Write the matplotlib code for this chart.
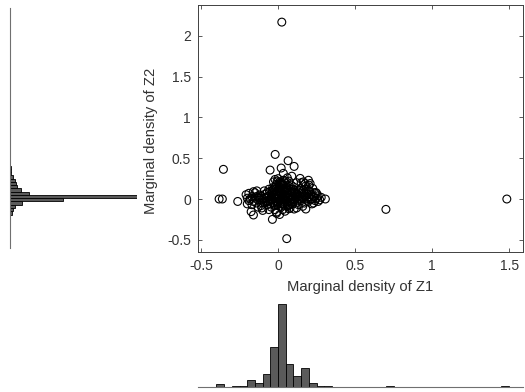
import numpy as np
import matplotlib.pyplot as plt

plt.rcParams['font.family'] = ['Liberation Sans', 'DejaVu Sans']

# scattered / outlying observations
z1_out = [0.024, -0.355, -0.383, -0.362, -0.262, 0.70, 1.485, 0.056, -0.019, 0.065,
          0.104, 0.02, -0.052, 0.307, 0.26, 0.104, 0.18, -0.037, -0.16, -0.175,
          -0.208, -0.138, 0.143, 0.197, 0.236, -0.01, 0.034, 0.089, 0.164, 0.208,
          -0.15, -0.17, -0.106, 0.078, 0.23, 0.25]
z2_out = [2.17, 0.364, 0.0, 0.0, -0.03, -0.127, 0.0, -0.486, 0.547, 0.47,
          0.40, 0.38, 0.355, 0.0, -0.03, -0.123, -0.123, -0.25, -0.196, -0.155,
          0.053, 0.10, 0.253, 0.23, 0.078, -0.175, 0.315, 0.28, 0.21, 0.19,
          0.077, -0.07, -0.11, -0.11, -0.05, 0.07]

# dense core around the origin
z1_core = [-0.20, -0.19, -0.18, -0.17, -0.16, -0.15, -0.14, -0.13, -0.12, -0.11,
           -0.10, -0.09, -0.085, -0.08, -0.07, -0.065, -0.06, -0.055, -0.05, -0.045,
           -0.04, -0.035, -0.03, -0.03, -0.025, -0.02, -0.02, -0.015, -0.01, -0.01,
           -0.005, 0.00, 0.00, 0.005, 0.01, 0.01, 0.015, 0.02, 0.02, 0.025,
           0.03, 0.03, 0.035, 0.04, 0.04, 0.045, 0.05, 0.05, 0.055, 0.06,
           0.06, 0.065, 0.07, 0.07, 0.075, 0.08, 0.08, 0.085, 0.09, 0.09,
           0.095, 0.10, 0.10, 0.105, 0.11, 0.115, 0.12, 0.12, 0.125, 0.13,
           0.135, 0.14, 0.145, 0.15, 0.155, 0.16, 0.165, 0.17, 0.175, 0.18,
           0.185, 0.19, 0.195, 0.20, 0.205, 0.21, 0.215, 0.22, 0.225, 0.23,
           0.24, 0.245, 0.25, 0.26, 0.27, 0.28,
           -0.045, -0.04, -0.035, -0.03, -0.025, -0.02, -0.015, -0.01, -0.005, 0.00,
           0.005, 0.01, 0.015, 0.02, 0.025, 0.03, 0.035, 0.04, 0.045, 0.05,
           0.055, -0.06, -0.05, -0.07, -0.08, -0.09, -0.11, -0.12, 0.01, -0.02,
           0.03, 0.06, -0.01, 0.03, 0.07, 0.01, -0.06, 0.12, 0.15, 0.16,
           0.20, 0.22, -0.13, -0.10, -0.20, -0.19, -0.16,
           -0.042, -0.028, -0.012, 0.004, 0.018, 0.032, 0.048, 0.062, 0.078, 0.092,
           -0.038, -0.022, -0.008, 0.008, 0.022, 0.038, 0.052, 0.068, 0.082, 0.098,
           0.112, 0.128, 0.142, 0.158, 0.172, 0.188, 0.202, 0.218, 0.232, 0.108,
           0.122, 0.138, 0.152, 0.168, 0.182, 0.198, 0.212, -0.048, -0.032, -0.018,
           -0.002, 0.012, 0.028, 0.042, 0.058, 0.072, 0.088, -0.068, -0.088, -0.102,
           -0.118, -0.142, 0.014, -0.006, 0.026, 0.044, 0.064, 0.084, 0.132, 0.176]
z2_core = [0.01, -0.02, 0.00, 0.03, -0.03, 0.01, -0.05, 0.02, -0.01, 0.04,
           0.00, -0.04, 0.06, 0.01, -0.07, 0.03, -0.02, 0.09, 0.00, -0.10,
           0.05, 0.14, -0.04, 0.21, 0.02, 0.11, -0.13, 0.07, 0.00, 0.18,
           -0.07, 0.04, 0.25, 0.13, -0.02, 0.09, 0.20, 0.01, -0.10, 0.16,
           0.05, -0.05, 0.23, 0.00, 0.11, -0.15, 0.03, 0.19, -0.03, 0.08,
           0.14, -0.08, 0.01, 0.22, 0.05, -0.02, 0.12, 0.17, 0.00, 0.07,
           -0.06, 0.03, 0.15, 0.10, -0.01, 0.06, 0.02, 0.20, -0.04, 0.09,
           0.00, 0.04, 0.13, -0.02, 0.07, 0.01, 0.11, -0.05, 0.03, 0.16,
           0.00, 0.06, -0.03, 0.02, 0.10, -0.01, 0.05, 0.00, 0.13, 0.03,
           -0.02, 0.08, 0.01, 0.04, -0.01, 0.02,
           0.03, -0.01, 0.08, 0.12, -0.08, 0.04, 0.16, 0.06, 0.01, -0.03,
           0.10, 0.03, -0.06, 0.07, 0.12, 0.00, 0.06, -0.03, 0.09, -0.01,
           0.13, 0.12, -0.06, 0.08, -0.03, 0.10, -0.08, 0.05, 0.21, 0.24,
           0.17, 0.26, -0.16, -0.13, -0.12, -0.19, -0.13, -0.11, 0.20, -0.09,
           0.17, -0.06, -0.10, -0.14, -0.06, 0.07, 0.09,
           0.02, 0.05, 0.01, 0.03, 0.00, 0.02, 0.04, 0.01, 0.02, 0.00,
           0.10, 0.14, 0.09, 0.15, 0.18, 0.13, 0.11, 0.16, 0.09, 0.12,
           0.01, 0.03, 0.00, 0.02, 0.04, 0.01, 0.03, 0.00, 0.02, 0.08,
           0.06, 0.11, 0.09, 0.07, 0.12, 0.10, 0.06, -0.02, -0.05, -0.07,
           -0.04, -0.09, -0.06, -0.08, -0.05, -0.07, -0.04, -0.03, 0.02, -0.05,
           0.01, 0.03, 0.19, 0.22, 0.18, 0.21, -0.09, -0.06, -0.07, 0.19]

# marginal histogram of Z1 (bin left edges, width 0.05)
z1_bin_left = [-0.40, -0.30, -0.25, -0.20, -0.15, -0.10, -0.05, 0.00, 0.05, 0.10,
               0.15, 0.20, 0.25, 0.30, 0.70, 1.45]
z1_counts = [3, 1, 1, 7, 4, 13, 40, 83, 23, 11, 19, 4, 1, 1, 1, 1]

# marginal histogram of Z2 (bin lower edges, width 0.04)
z2_bin_low = [-0.51, -0.27, -0.23, -0.19, -0.15, -0.11, -0.07, -0.03, 0.01, 0.05,
              0.09, 0.13, 0.17, 0.21, 0.25, 0.29, 0.33, 0.37, 0.45, 0.53, 2.17]
z2_counts = [1, 1, 1, 3, 4, 6, 13, 54, 128, 20, 12, 8, 7, 6, 4, 2, 2, 2, 1, 1, 1]

W, H = 525, 392
txt = '#333333'
line = '#404040'

fig = plt.figure(figsize=(W / 100, H / 100), dpi=100)

# main scatter
ax = fig.add_axes([198 / W, 1 - 252 / H, (523 - 198) / W, (252 - 5) / H])
ax.scatter(z1_out + z1_core, z2_out + z2_core, s=32, facecolors='none',
           edgecolors='black', linewidths=0.8)
ax.set_xlim(-0.52, 1.59)
ax.set_ylim(-0.65, 2.38)
ax.set_xticks([-0.5, 0, 0.5, 1, 1.5])
ax.set_xticklabels(['-0.5', '0', '0.5', '1', '1.5'])
ax.set_yticks([-0.5, 0, 0.5, 1, 1.5, 2])
ax.set_yticklabels(['-0.5', '0', '0.5', '1', '1.5', '2'])
ax.tick_params(direction='in', top=True, right=True, length=3, width=0.6,
               labelsize=10, colors=line, labelcolor=txt, pad=5)
for s in ax.spines.values():
    s.set_color(line)
    s.set_linewidth(0.7)
ax.set_xlabel('Marginal density of Z1', fontsize=10.6, color=txt, labelpad=5)
ax.set_ylabel('Marginal density of Z2', fontsize=10.6, color=txt)
ax.yaxis.set_label_coords(-0.122, 0.45)

# left marginal histogram
axl = fig.add_axes([9.5 / W, 1 - 248 / H, (137 - 9.5) / W, (248 - 8) / H])
axl.barh(z2_bin_low, z2_counts, height=0.04, align='edge', color='#5a5a5a',
         edgecolor='black', linewidth=0.6)
axl.set_xlim(0, 128)
axl.set_ylim(-0.60, 2.34)
axl.set_xticks([])
axl.set_yticks([])
for k in ['top', 'right', 'bottom']:
    axl.spines[k].set_visible(False)
axl.spines['left'].set_color('#707070')
axl.patch.set_alpha(0)

# bottom marginal histogram
axb = fig.add_axes([198 / W, 1 - 387 / H, (523 - 198) / W, (387 - 304) / H])
axb.bar(z1_bin_left, z1_counts, width=0.05, align='edge', color='#5a5a5a',
        edgecolor='black', linewidth=0.6)
axb.set_xlim(-0.52, 1.59)
axb.set_ylim(0, 83)
axb.set_xticks([])
axb.set_yticks([])
for k in ['top', 'right', 'left']:
    axb.spines[k].set_visible(False)
axb.spines['bottom'].set_color('#707070')
axb.patch.set_alpha(0)

fig.savefig('out.png', dpi=100)
